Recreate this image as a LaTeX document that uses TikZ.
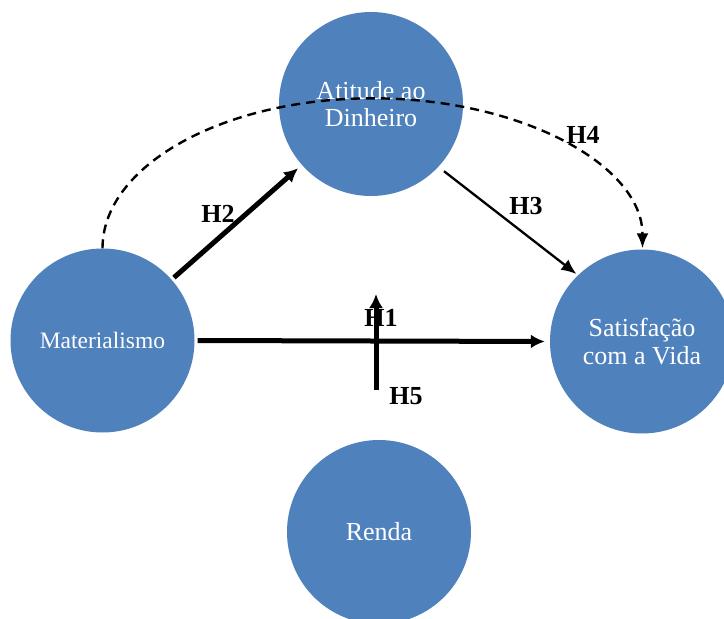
\documentclass[tikz,border=0pt]{standalone}
\usepackage{fontspec}
\setmainfont{Liberation Serif}
\usetikzlibrary{arrows.meta}
\definecolor{cblue}{HTML}{4F81BD}
\tikzset{
  var/.style={circle, fill=cblue, draw=none, minimum size=184pt, inner sep=0pt,
    text=white, align=center, font=\fontsize{26}{27.5}\selectfont},
  hlab/.style={inner sep=0pt, font=\fontsize{26}{30}\selectfont\bfseries},
  thick arrow/.style={line width=5pt, -{Latex[length=14pt,width=14pt]}},
  thin arrow/.style={line width=2.3pt, -{Latex[length=15pt,width=13pt]}},
  dash arrow/.style={line width=2.4pt, dash pattern=on 9pt off 6pt, -{Latex[length=15pt,width=12pt]}}
}
\begin{document}
\begin{tikzpicture}[x=1pt,y=-1pt]
\clip (0,0) rectangle (724,619);
\fill[white] (0,0) rectangle (724,619);
% variables
\node[var] (a) at (371,104) {Atitude ao\\Dinheiro};
\node[var, font=\fontsize{23.5}{27.5}\selectfont] (m) at (102.5,340.5) {Materialismo};
\node[var] (s) at (642,341.5) {Satisfação\\com a Vida};
\node[var] (r) at (379,532) {Renda};
% labels
\node[hlab] (l2) at (218,214) {H2};
\node[hlab] (l3) at (526,206) {H3};
\node[hlab] (l4) at (583,135) {H4};
\node[hlab] (l1) at (381,318) {H1};
\node[hlab] (l5) at (406,396) {H5};
% connectors
\draw[thick arrow, shorten <=3pt, shorten >=5pt] (m) -- (a);
\draw[thin arrow, shorten <=7pt, shorten >=2pt] (a.-43) -- (s.134);
\draw[thick arrow, shorten <=3pt, shorten >=5pt] (m.east) -- (s.west);
\coordinate (h5s) at (376,390);
\coordinate (h5e) at (376,294);
\draw[thick arrow] (h5s) -- (h5e);
\draw[dash arrow] (m.north) arc[start angle=180, end angle=0, x radius=270pt, y radius=150pt];
\end{tikzpicture}
\end{document}
